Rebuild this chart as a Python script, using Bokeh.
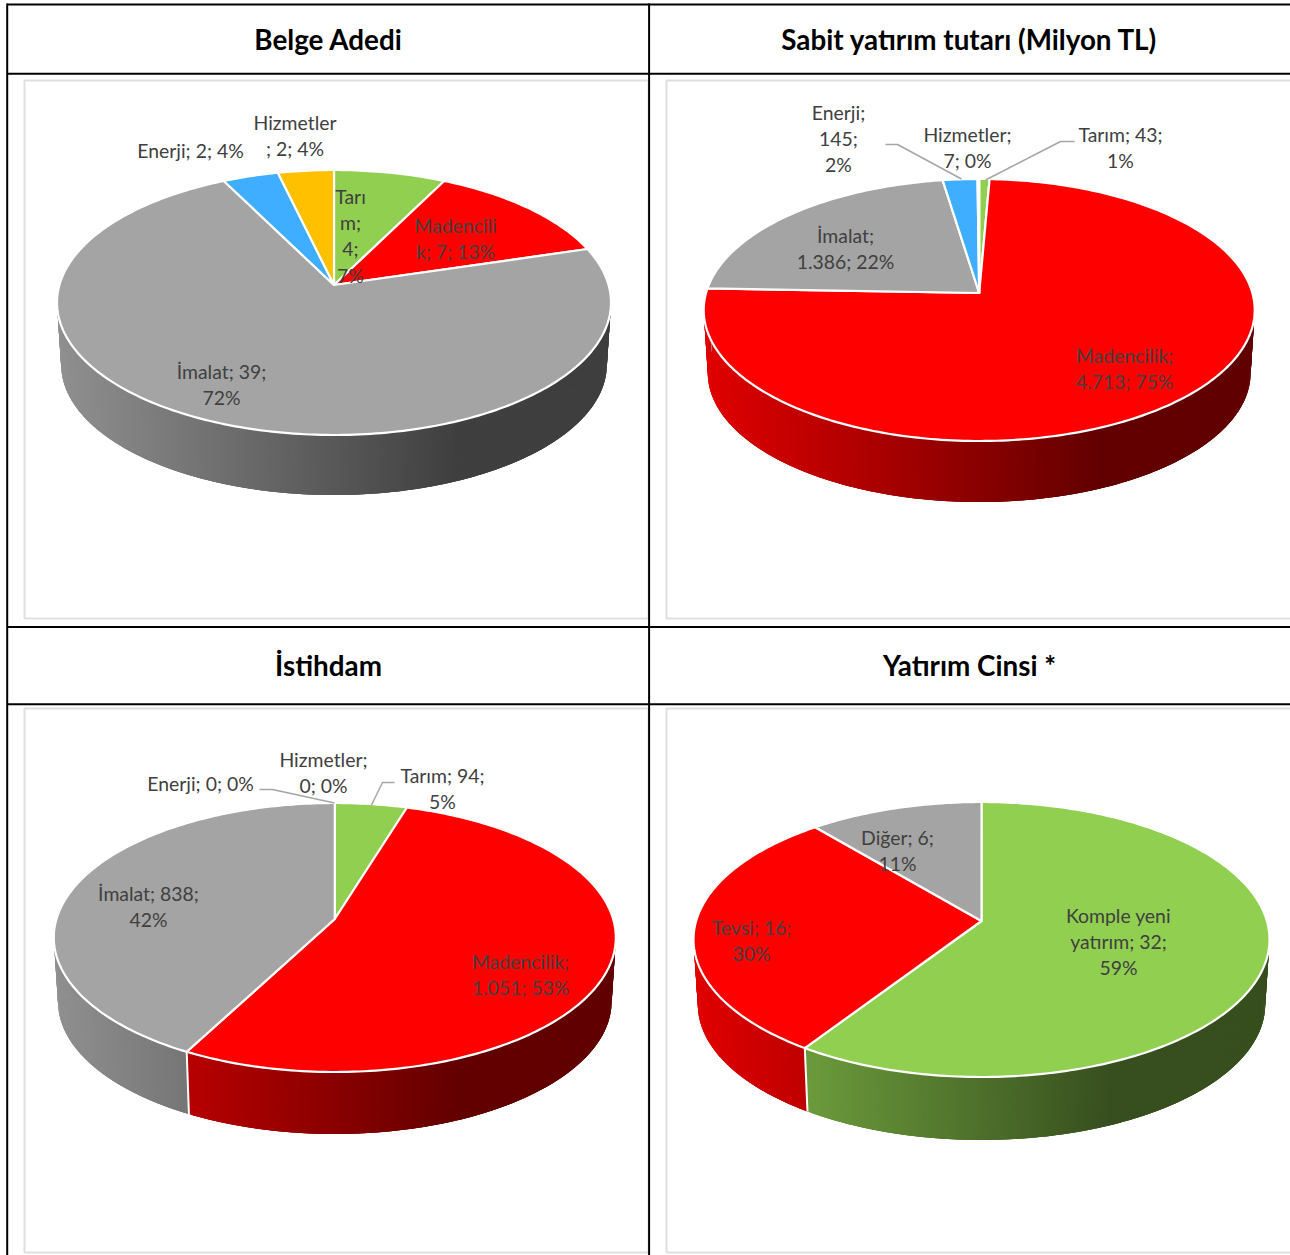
import math
from bokeh.plotting import figure
from bokeh.models import ColumnDataSource
from bokeh.core.properties import value
from bokeh.embed import file_html
from bokeh.resources import INLINE

# ---------- data ----------
belge_categories = ["Tarım", "Madencilik", "İmalat", "Enerji", "Hizmetler"]
belge_values = [4, 7, 39, 2, 2]
sabit_categories = ["Tarım", "Madencilik", "İmalat", "Enerji", "Hizmetler"]
sabit_values = [43, 4713, 1386, 145, 7]
istihdam_categories = ["Tarım", "Madencilik", "İmalat", "Enerji", "Hizmetler"]
istihdam_values = [94, 1051, 838, 0, 0]
cins_categories = ["Komple yeni yatırım", "Tevsi", "Diğer"]
cins_values = [32, 16, 6]
titles = ["Belge Adedi", "Sabit yatırım tutarı (Milyon TL)", "İstihdam", "Yatırım Cinsi *"]

# ---------- style ----------
COL = {"Tarım": "#90CF50", "Madencilik": "#FF0000", "İmalat": "#A4A4A4", "Enerji": "#3FAEFF",
       "Hizmetler": "#FFC000", "Komple yeni yatırım": "#90CF50", "Tevsi": "#FF0000", "Diğer": "#A4A4A4"}
FONT = value("Lato")
LABEL_SIZE = "19.4px"
TITLE_SIZE = "27.8px"
LABEL_COLOR = "#404040"

# pie geometry: cx, apex y, top y, bottom y, half width, extrusion
PIES = [
    (belge_categories, belge_values, 333.5, 284.5, 169.5, 434.5, 277, 62),
    (sabit_categories, sabit_values, 978.7, 292.5, 178.5, 440.5, 275.5, 63),
    (istihdam_categories, istihdam_values, 334.3, 918.5, 802.5, 1071.5, 281, 64),
    (cins_categories, cins_values, 981, 920.5, 801.5, 1076.5, 288, 65),
]

# label lines with layout (centre x, first line y)
LABELS = [
    (["Hizmetler", "; 2; 4%"], 294.5, 122), (["Enerji; 2; 4%"], 190, 150),
    (["Tarı", "m;", "4;", "7%"], 350, 196), (["Madencili", "k; 7; 13%"], 455, 225),
    (["İmalat; 39;", "72%"], 221, 371),
    (["Enerji;", "145;", "2%"], 838, 112), (["Hizmetler;", "7; 0%"], 967, 134),
    (["Tarım; 43;", "1%"], 1120, 134), (["İmalat;", "1.386; 22%"], 845, 235),
    (["Madencilik;", "4.713; 75%"], 1124, 355),
    (["Hizmetler;", "0; 0%"], 323, 759), (["Enerji; 0; 0%"], 200, 783),
    (["Tarım; 94;", "5%"], 442, 775), (["İmalat; 838;", "42%"], 148, 893),
    (["Madencilik;", "1.051; 53%"], 520, 961),
    (["Diğer; 6;", "11%"], 897, 837), (["Tevsi; 16;", "30%"], 751, 927),
    (["Komple yeni", "yatırım; 32;", "59%"], 1118, 915),
]
LEADERS = [
    ([885, 897, 961], [144, 144, 178.5]),
    ([1074, 1060, 985], [141, 141, 179.5]),
    ([259, 272, 334], [789, 789, 802.5]),
    ([394, 382, 371], [782, 782, 804.5]),
]

p = figure(width=1290, height=1255, x_range=(0, 1290), y_range=(1255, 0),
           toolbar_location=None, output_backend="svg", min_border=0)
p.axis.visible = False
p.grid.visible = False
p.outline_line_color = None


def hex_shade(c, s):
    r, g, b = int(c[1:3], 16), int(c[3:5], 16), int(c[5:7], 16)
    return "#%02x%02x%02x" % (int(r * s), int(g * s), int(b * s))


def shade(f):
    return max(0.385, 0.88 - 0.69 * f)


# chart frames
for x0, x1, y0, y1 in [(24, 648, 80, 618), (666, 1300, 80, 618), (24, 648, 708, 1252), (666, 1300, 708, 1252)]:
    p.line([x1, x0, x0, x1, x1], [y0, y0, y1, y1, y0], line_color="#DFDFDF", line_width=2)


def draw_pie(cats, vals, cx, ay, ty, by, rx, depth):
    # perspective circle -> ellipse
    C = (ty + by - 2 * ay) / (by - ty)
    A = ty * (1 + C) - ay
    D = rx * math.sqrt(1 - C * C)
    ecy = (ty + by) / 2
    scale = 0.985

    def top(th):
        u, v = math.sin(th), math.cos(th)
        d = 1 + C * v
        return cx + D * u / d, (A * v + ay) / d

    def bot(th):
        x, y = top(th)
        return cx + scale * (x - cx), ecy + depth + scale * (y - ecy)

    total = sum(vals)
    # sides: each strip overlaps the previous one so no seams show
    xs, ys, cols = [], [], []
    start = 0.0
    edges = []
    step = math.radians(0.4)
    for cat, val in zip(cats, vals):
        if val == 0:
            continue
        a0 = start
        a1 = start + val / total * 2 * math.pi
        n = max(1, int((a1 - a0) / step))
        for i in range(n):
            t0 = a0 + (a1 - a0) * i / n
            t1 = a0 + (a1 - a0) * (i + 1) / n
            if math.cos((t0 + t1) / 2) > 0.05:
                continue
            tb = max(a0, t0 - 2 * step)
            p0, p1, q1, q0 = top(tb), top(t1), bot(t1), bot(tb)
            xs.append([p0[0], p1[0], q1[0], q0[0]])
            ys.append([p0[1], p1[1], q1[1], q0[1]])
            xm = (top(t0)[0] + p1[0]) / 2
            f = (xm - (cx - rx)) / (2 * rx)
            cols.append(hex_shade(COL[cat], shade(f)))
        edges.append(a1)
        start = a1
    src = ColumnDataSource(dict(xs=xs, ys=ys, c=cols))
    p.patches("xs", "ys", source=src, fill_color="c", line_color=None)
    for a in edges:
        if math.cos(a) < -0.02:
            t, b = top(a), bot(a)
            p.line([t[0], b[0]], [t[1], b[1]], line_color="white", line_width=2)
    # top faces
    start = 0.0
    for cat, val in zip(cats, vals):
        if val == 0:
            continue
        a0 = start
        a1 = start + val / total * 2 * math.pi
        n = max(2, int((a1 - a0) / math.radians(1)))
        pts = [top(a0 + (a1 - a0) * i / n) for i in range(n + 1)]
        p.patch([cx] + [q[0] for q in pts], [ay] + [q[1] for q in pts], fill_color=COL[cat],
                line_color="white", line_width=2.2, line_join="round")
        start = a1


for pie in PIES:
    draw_pie(*pie)

# table lines
TABLE = "#000000"
for y in (4, 73.2, 626.6, 703.8):
    p.line([6.5, 1290], [y, y], line_color=TABLE, line_width=2)
for x in (6.7, 648.6):
    p.line([x, x], [3, 1255], line_color=TABLE, line_width=2)

# leaders
for lx, ly in LEADERS:
    p.line(lx, ly, line_color="#A6A6A6", line_width=1.5)

# labels
tx, ty_, tt = [], [], []
for lines, x, y in LABELS:
    for i, line in enumerate(lines):
        tx.append(x)
        ty_.append(y + i * 26.2)
        tt.append(line)
p.text(tx, ty_, text=tt, text_font=FONT, text_font_size=LABEL_SIZE, text_color=LABEL_COLOR,
       text_align="center", text_baseline="middle")

p.text([328, 969, 328, 969], [38.5, 38.5, 664.5, 664.5], text=titles, text_font=FONT, text_font_size=TITLE_SIZE,
       text_font_style="bold", text_color="#000000", text_align="center", text_baseline="middle")

open("out.html", "w").write(file_html(p, INLINE))
